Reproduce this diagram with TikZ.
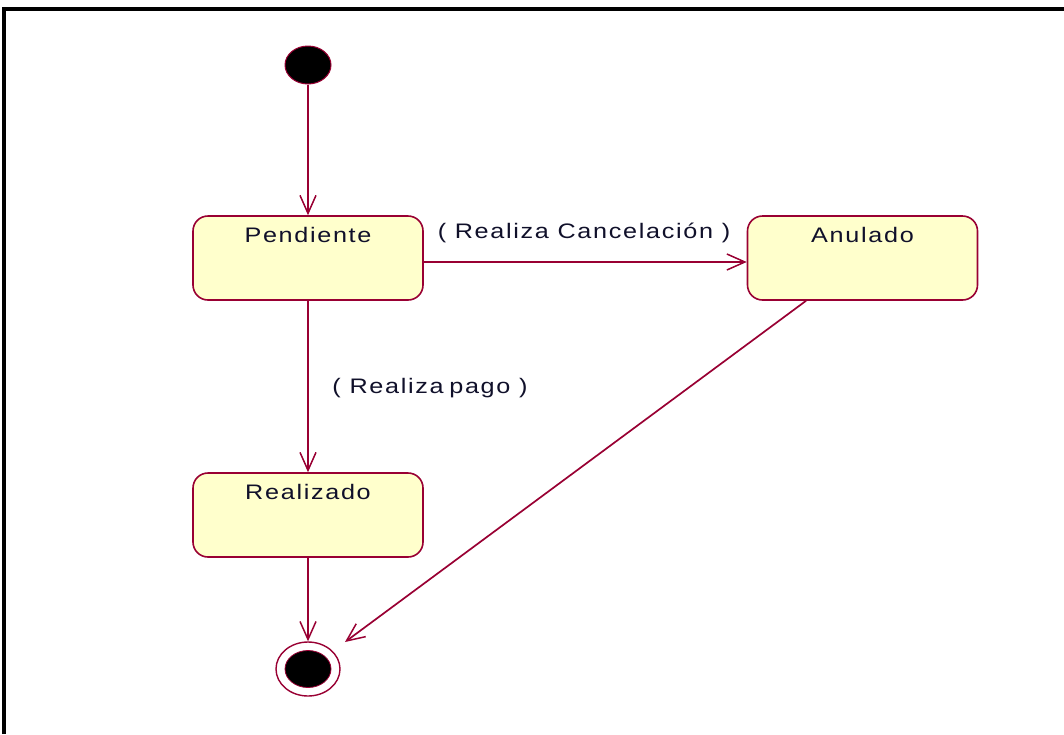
\documentclass[tikz,border=0pt]{standalone}
\usepackage{fontspec}
\setmainfont{Liberation Sans}[LetterSpace=8,FakeStretch=1.2]
\usetikzlibrary{arrows.meta,shapes.geometric}
\definecolor{umlline}{HTML}{990033}
\definecolor{umlfill}{HTML}{FFFFCC}
\definecolor{umltext}{HTML}{10102A}
\tikzset{
  statebox/.style={draw=umlline, fill=umlfill, line width=1.6pt, rounded corners=15pt,
    minimum width=230pt, minimum height=84pt, inner sep=0pt},
  stname/.style={anchor=base, yshift=-27pt, font=\fontsize{21}{24}\selectfont, text=umltext, inner sep=0pt},
  trans/.style={draw=umlline, line width=1.7pt, -{Straight Barb[length=18pt,width=16pt,line width=1.5pt]}},
  translabel/.style={font=\fontsize{21}{24}\selectfont, text=umltext, inner sep=0pt},
  initst/.style={ellipse, fill=black, draw=umlline, line width=1pt, minimum width=46pt, minimum height=38pt, inner sep=0pt},
}
\begin{document}
\begin{tikzpicture}[x=1pt,y=-1pt]
\useasboundingbox (0,0) rectangle (1064,734);
\fill[white] (0,0) rectangle (1064,734);
% frame
\draw[line width=4pt] (4,734) -- (4,9) -- (1064,9);
% states
\node[initst] (init) at (308,65) {};
\node[statebox, label={[stname]north:Pendiente}] (pend) at (308,258) {};
\node[statebox, label={[stname]north:Anulado}] (anul) at (862.5,258) {};
\node[statebox, label={[stname]north:Realizado}] (real) at (308,515) {};
\node[ellipse, draw=umlline, line width=1.4pt, fill=white, minimum width=64pt, minimum height=54pt, inner sep=0pt] (final) at (308,669) {};
\node[ellipse, fill=black, draw=umlline, line width=0.8pt, minimum width=46pt, minimum height=37pt, inner sep=0pt] (finalin) at (308,669) {};
\coordinate (diagend) at (345,642);
% transitions
\draw[trans] (init.south) -- (pend.north);
\draw[trans] (pend.east |- 0,262) -- (anul.west |- 0,262);
\draw[trans] (pend.south) -- (real.north);
\draw[trans] (real.south) -- (final.north);
\draw[trans] ([xshift=-56.5pt]anul.south) -- (diagend);
% labels
\node[translabel] (lc) at (584,233) {( Realiza Cancelación )};
\node[translabel] (lp) at (430,388) {( Realiza\hspace{-3pt} pago )};
\end{tikzpicture}
\end{document}
